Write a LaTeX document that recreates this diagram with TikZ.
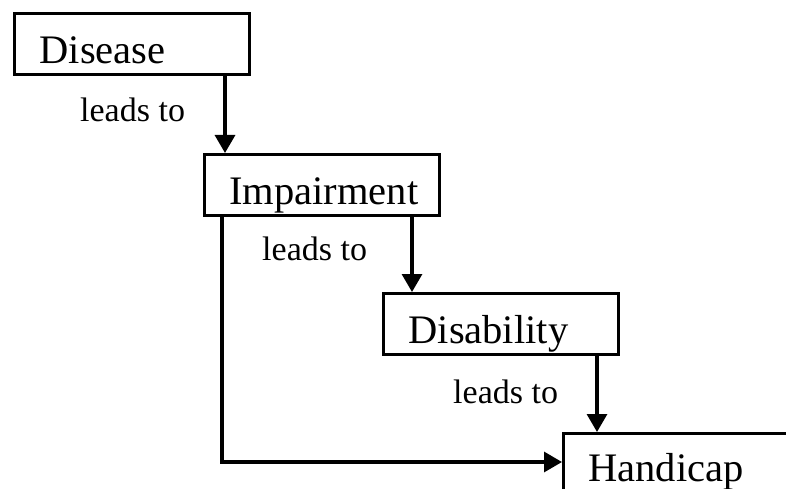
\documentclass[tikz,border=0pt]{standalone}
\usepackage{fontspec}
\setmainfont{Liberation Serif}
\usetikzlibrary{arrows.meta}
\begin{document}
\begin{tikzpicture}[x=1pt,y=-1pt,
  box/.style={draw, line width=3pt, rectangle, anchor=north west,
    minimum width=235pt, text width=185pt, align=left, inner xsep=25pt,
    inner ysep=0pt, text height=50pt, text depth=11pt,
    font=\fontsize{40.5}{41}\selectfont},
  lbl/.style={anchor=base west, inner sep=0pt, font=\fontsize{34}{35}\selectfont},
  arr/.style={line width=3.2pt, -{Triangle[width=20pt,length=18pt]}}]
\useasboundingbox (0,0) rectangle (786,489);
\clip (0,0) rectangle (786,489);
\node[box] (disease) at (13,12) {Disease};
\node[box] (impairment) at (203,153) {Impairment};
\node[box] (disability) at (382,292) {Disability};
\node[box, text height=48pt, text depth=13pt] (handicap) at (562,432) {Handicap};
\node[lbl] (l1) at (80,122) {leads to};
\node[lbl] (l2) at (262,260) {leads to};
\node[lbl] (l3) at (453,403) {leads to};
\coordinate (x1) at (225,0);
\coordinate (x2) at (412,0);
\coordinate (x3) at (597,0);
\coordinate (x4) at (222,0);
\coordinate (y1) at (0,462);
\draw[arr] (disease.south -| x1) -- (impairment.north -| x1);
\draw[arr] (impairment.south -| x2) -- (disability.north -| x2);
\draw[arr] (disability.south -| x3) -- (handicap.north -| x3);
\draw[arr] (impairment.south -| x4) |- (handicap.west |- y1);
\end{tikzpicture}
\end{document}
